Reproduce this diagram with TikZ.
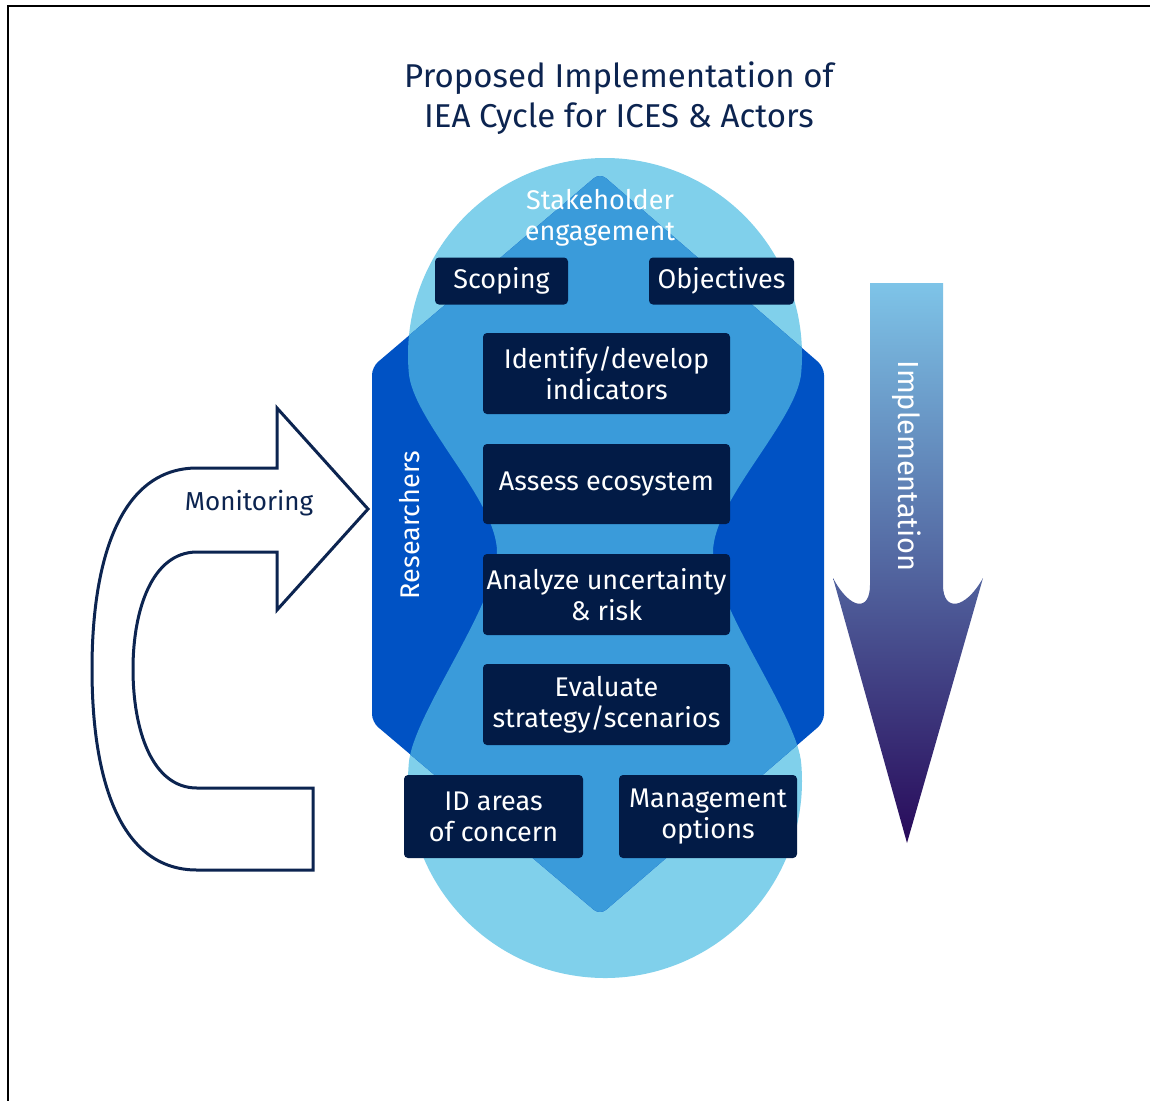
\documentclass[tikz,border=0pt]{standalone}
\usepackage{fontspec}
\setmainfont{Fira Sans}
\definecolor{lightb}{RGB}{128,208,235}
\definecolor{medb}{RGB}{58,155,218}
\definecolor{darkb}{RGB}{0,82,196}
\definecolor{boxnavy}{RGB}{2,27,70}
\definecolor{titlenavy}{RGB}{12,36,80}
\definecolor{arrtop}{RGB}{126,196,232}
\definecolor{arrmid}{RGB}{84,112,182}
\definecolor{arrbot}{RGB}{40,10,90}
\tikzset{
  stepbox/.style={fill=boxnavy, rounded corners=4pt, text=white, align=center,
    inner sep=0pt, font=\fontsize{27}{31}\selectfont},
  whitelabel/.style={text=white, align=center, font=\fontsize{27}{31}\selectfont},
  outline/.style={draw=titlenavy, line width=3pt, fill=white, line join=miter},
}
\newcommand{\Lshape}{(605,158) arc[start angle=270, end angle=175, radius=197]
  .. controls (412,420) and (497,500) .. (497,552)
  .. controls (497,605) and (412,716) .. (408.75,763.83)
  arc[start angle=185, end angle=-5, radius=197]
  .. controls (798,716) and (713,605) .. (713,552)
  .. controls (713,500) and (798,420) .. (801.25,372.17)
  arc[start angle=5, end angle=-90, radius=197] -- cycle}
\newcommand{\Hshape}{[rounded corners=8pt] (600,173) -- (372,367) -- (372,722) -- (600,915) -- (824,722) -- (824,367) -- cycle}
\begin{document}
\begin{tikzpicture}[x=1pt,y=-1pt]
\useasboundingbox (0,0) rectangle (1150,1101);
\fill[white] (0,0) rectangle (1150,1101);
% frame
\draw[line width=2pt] (1150,6) -- (8,6) -- (8,1101);
% title
\node[text=titlenavy, align=center, font=\fontsize{33}{40}\selectfont] (title) at (619,98) {Proposed Implementation of\\IEA Cycle for ICES \& Actors};
% background shapes
\fill[lightb] \Lshape;
\fill[darkb] \Hshape;
\begin{scope}
  \clip \Lshape;
  \fill[medb] \Hshape;
\end{scope}
% labels on shapes
\node[whitelabel] (stake) at (600,218) {Stakeholder\\engagement};
\node[whitelabel, rotate=90] (res) at (410,525) {Researchers};
% boxes
\node[stepbox, minimum width=133pt, minimum height=47pt] (scoping) at (501.5,281) {Scoping};
\node[stepbox, minimum width=145pt, minimum height=47pt] (objectives) at (721.5,281) {Objectives};
\node[stepbox, minimum width=247pt, minimum height=81pt] (identify) at (606.5,373.5) {Identify/develop\\indicators};
\node[stepbox, minimum width=247pt, minimum height=80pt] (assess) at (606.5,484) {Assess ecosystem};
\node[stepbox, minimum width=247pt, minimum height=81pt] (analyze) at (606.5,594.5) {Analyze uncertainty\\\& risk};
\node[stepbox, minimum width=247pt, minimum height=81pt] (evaluate) at (606.5,704.5) {Evaluate\\strategy/scenarios};
\node[stepbox, minimum width=179pt, minimum height=83pt] (idareas) at (493.5,816.5) {ID areas\\of concern};
\node[stepbox, minimum width=178pt, minimum height=83pt] (mgmt) at (708,816.5) {Management\\options};
% monitoring arrow
\draw[outline] (313,870) -- (197,870)
  .. controls (120,870) and (92,780) .. (92,669)
  .. controls (92,560) and (120,468) .. (197,468)
  -- (277,468) -- (277,408) -- (368,509) -- (277,610) -- (277,552) -- (197,552)
  .. controls (152,552) and (133,610) .. (133,669)
  .. controls (133,730) and (152,788) .. (197,788)
  -- (313,788) -- cycle;
\node[text=titlenavy, font=\fontsize{26}{31}\selectfont] (mon) at (249,503) {Monitoring};
% implementation arrow
\shade[top color=arrtop, middle color=arrmid, bottom color=arrbot]
  (870,283) -- (943,283) -- (943,585)
  .. controls (943,612) and (965,610) .. (983,578)
  -- (907,843) -- (833,578)
  .. controls (850,610) and (870,612) .. (870,585) -- cycle;
\node[whitelabel, rotate=-90, font=\fontsize{29}{34}\selectfont] (impl) at (907,466) {Implementation};
\end{tikzpicture}
\end{document}
